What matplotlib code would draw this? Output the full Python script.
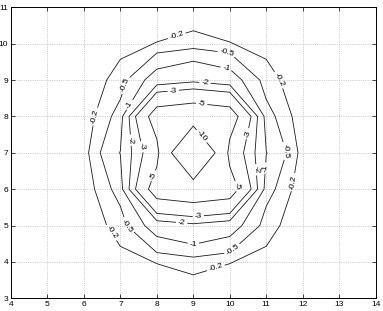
import numpy as np
import matplotlib.pyplot as plt

plt.rcParams['font.family'] = ['Liberation Sans', 'DejaVu Sans']

# grid nodes
x_nodes = [4, 5, 6, 7, 8, 9, 10, 11, 12, 13, 14]
y_nodes = [3, 4, 5, 6, 7, 8, 9, 10, 11]

Z = [
    [0, 0, 0, 0, 0, 0, 0, 0, 0, 0, 0],
    [0, 0, 0, -0.11, -0.21, -0.31, -0.21, -0.11, 0, 0, 0],
    [0, 0, 0, -0.32, -1.34, -1.74, -1.34, -0.32, 0, 0, 0],
    [0, 0, -0.01, -0.66, -6.3, -6.9, -6.3, -0.66, -0.01, 0, 0],
    [0, 0, -0.08, -1.02, -4.2, -18.7, -4.2, -1.02, -0.08, 0, 0],
    [0, 0, -0.01, -0.66, -6.3, -6.9, -6.3, -0.66, -0.01, 0, 0],
    [0, 0, 0, -0.32, -1.34, -1.74, -1.34, -0.32, 0, 0, 0],
    [0, 0, 0, -0.11, -0.21, -0.31, -0.21, -0.11, 0, 0, 0],
    [0, 0, 0, 0, 0, 0, 0, 0, 0, 0, 0],
]

levels = [-10, -5, -3, -2, -1, -0.5, -0.2]

# where the inline labels sit
label_pos = {
    -0.2: [(8.55, 10.2), (6.3, 8.0), (11.35, 9.0), (11.7, 6.2), (6.75, 4.8), (9.6, 3.9)],
    -0.5: [(7.13, 8.86), (9.92, 9.8), (11.47, 7.03), (7.17, 4.98), (10.1, 4.3)],
    -1: [(7.27, 8.31), (9.92, 9.4), (10.97, 6.58), (9.0, 4.46)],
    -2: [(7.31, 7.35), (9.32, 8.93), (10.69, 6.53), (8.68, 5.08)],
    -3: [(8.45, 8.72), (7.61, 7.17), (10.42, 7.54), (9.14, 5.24)],
    -5: [(9.23, 8.35), (7.9, 6.37), (10.19, 6.07)],
    -10: [(9.28, 7.5)],
}

fig = plt.figure(figsize=(3.83, 3.11), dpi=100)
ax = fig.add_axes([0.0287, 0.0408, 0.952, 0.9357])

Zarr = np.array(Z)
for lvl in levels:
    cs = ax.contour(x_nodes, y_nodes, Zarr, levels=[lvl], colors='0.1',
                    linewidths=0.6, negative_linestyles='solid')
    ax.clabel(cs, manual=label_pos[lvl], inline=True, fontsize=6,
              colors='k', fmt=lambda v: f'{v:g}', inline_spacing=2)

ax.set_xlim(4, 14)
ax.set_ylim(3, 11)
ax.set_xticks(x_nodes)
ax.set_yticks(y_nodes)
ax.tick_params(direction='in', length=3, width=0.5, labelsize=6, pad=2,
               top=True, right=True)
ax.grid(True, linestyle=':', color='0.65', linewidth=0.5)
for s in ax.spines.values():
    s.set_linewidth(0.7)

fig.savefig('out.png', dpi=100)
